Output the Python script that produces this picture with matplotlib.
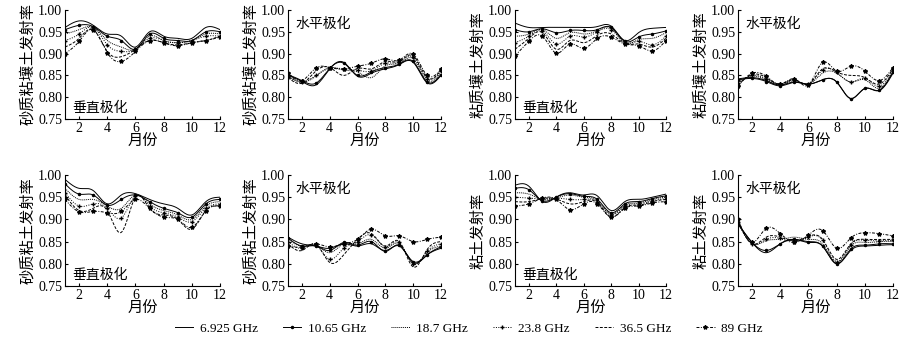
import numpy as np
import matplotlib
matplotlib.use("Agg")
import matplotlib.pyplot as plt

plt.rcParams['font.family'] = ['Liberation Serif', 'Noto Sans CJK SC']

months = list(range(1, 13))
freqs = ["6.925 GHz", "10.65 GHz", "18.7 GHz", "23.8 GHz", "36.5 GHz", "89 GHz"]

# 砂质粘壤土 垂直极化
p1 = [
    [0.960, 0.975, 0.965, 0.945, 0.940, 0.915, 0.950, 0.940, 0.935, 0.935, 0.960, 0.955],
    [0.955, 0.965, 0.962, 0.940, 0.930, 0.910, 0.945, 0.935, 0.930, 0.930, 0.950, 0.950],
    [0.945, 0.955, 0.960, 0.930, 0.915, 0.910, 0.940, 0.930, 0.925, 0.930, 0.945, 0.945],
    [0.930, 0.945, 0.960, 0.920, 0.905, 0.910, 0.935, 0.930, 0.925, 0.930, 0.940, 0.940],
    [0.915, 0.935, 0.955, 0.905, 0.893, 0.910, 0.930, 0.925, 0.920, 0.925, 0.930, 0.940],
    [0.900, 0.928, 0.955, 0.902, 0.882, 0.905, 0.930, 0.925, 0.918, 0.925, 0.930, 0.938],
]
# 砂质粘壤土 水平极化
p2 = [
    [0.850, 0.836, 0.828, 0.865, 0.880, 0.848, 0.855, 0.865, 0.875, 0.880, 0.833, 0.850],
    [0.852, 0.838, 0.832, 0.866, 0.878, 0.850, 0.858, 0.868, 0.876, 0.882, 0.835, 0.852],
    [0.848, 0.835, 0.848, 0.868, 0.862, 0.858, 0.845, 0.872, 0.878, 0.888, 0.838, 0.856],
    [0.846, 0.834, 0.850, 0.866, 0.865, 0.862, 0.860, 0.878, 0.880, 0.892, 0.842, 0.860],
    [0.845, 0.832, 0.860, 0.868, 0.850, 0.866, 0.865, 0.882, 0.882, 0.895, 0.845, 0.862],
    [0.855, 0.838, 0.867, 0.868, 0.865, 0.871, 0.878, 0.888, 0.885, 0.899, 0.850, 0.864],
]
# 粘质壤土 垂直极化
p3 = [
    [0.970, 0.960, 0.960, 0.960, 0.960, 0.960, 0.962, 0.963, 0.930, 0.948, 0.958, 0.960],
    [0.955, 0.950, 0.957, 0.948, 0.953, 0.953, 0.955, 0.960, 0.928, 0.938, 0.945, 0.952],
    [0.940, 0.945, 0.955, 0.935, 0.948, 0.945, 0.953, 0.958, 0.925, 0.932, 0.935, 0.948],
    [0.925, 0.940, 0.952, 0.922, 0.940, 0.938, 0.950, 0.955, 0.925, 0.928, 0.920, 0.940],
    [0.910, 0.935, 0.948, 0.910, 0.930, 0.925, 0.942, 0.945, 0.923, 0.922, 0.915, 0.935],
    [0.895, 0.928, 0.940, 0.901, 0.922, 0.912, 0.935, 0.938, 0.922, 0.918, 0.906, 0.930],
]
# 粘质壤土 水平极化
p4 = [
    [0.842, 0.845, 0.838, 0.828, 0.835, 0.830, 0.840, 0.835, 0.797, 0.820, 0.815, 0.855],
    [0.840, 0.843, 0.836, 0.826, 0.834, 0.830, 0.840, 0.835, 0.797, 0.820, 0.816, 0.858],
    [0.835, 0.848, 0.840, 0.828, 0.838, 0.830, 0.855, 0.855, 0.835, 0.840, 0.820, 0.860],
    [0.832, 0.850, 0.842, 0.830, 0.840, 0.830, 0.862, 0.857, 0.835, 0.843, 0.825, 0.862],
    [0.828, 0.852, 0.845, 0.830, 0.840, 0.830, 0.865, 0.858, 0.850, 0.845, 0.830, 0.865],
    [0.825, 0.855, 0.848, 0.830, 0.842, 0.828, 0.880, 0.860, 0.871, 0.860, 0.838, 0.868],
]
# 砂质粘土 垂直极化
p5 = [
    [0.990, 0.970, 0.965, 0.935, 0.955, 0.958, 0.945, 0.935, 0.925, 0.910, 0.940, 0.950],
    [0.980, 0.957, 0.955, 0.932, 0.945, 0.955, 0.940, 0.925, 0.915, 0.905, 0.935, 0.945],
    [0.970, 0.945, 0.945, 0.930, 0.925, 0.955, 0.935, 0.920, 0.910, 0.900, 0.930, 0.940],
    [0.960, 0.930, 0.935, 0.925, 0.903, 0.953, 0.930, 0.915, 0.905, 0.895, 0.925, 0.935],
    [0.955, 0.920, 0.925, 0.920, 0.871, 0.950, 0.925, 0.910, 0.900, 0.878, 0.920, 0.930],
    [0.945, 0.917, 0.918, 0.915, 0.918, 0.945, 0.925, 0.905, 0.900, 0.882, 0.920, 0.930],
]
# 砂质粘土 水平极化
p6 = [
    [0.860, 0.845, 0.840, 0.835, 0.845, 0.840, 0.845, 0.830, 0.840, 0.805, 0.820, 0.835],
    [0.858, 0.840, 0.840, 0.830, 0.848, 0.842, 0.850, 0.828, 0.842, 0.803, 0.820, 0.838],
    [0.855, 0.840, 0.842, 0.825, 0.845, 0.845, 0.855, 0.835, 0.845, 0.800, 0.825, 0.840],
    [0.850, 0.835, 0.843, 0.810, 0.835, 0.850, 0.865, 0.838, 0.848, 0.800, 0.828, 0.845],
    [0.845, 0.830, 0.844, 0.803, 0.820, 0.855, 0.868, 0.840, 0.850, 0.793, 0.832, 0.850],
    [0.840, 0.838, 0.845, 0.838, 0.845, 0.855, 0.878, 0.863, 0.863, 0.850, 0.855, 0.860],
]
# 粘土 垂直极化
p7 = [
    [0.977, 0.975, 0.940, 0.950, 0.960, 0.955, 0.953, 0.920, 0.940, 0.945, 0.950, 0.957],
    [0.970, 0.967, 0.942, 0.950, 0.958, 0.952, 0.945, 0.915, 0.935, 0.940, 0.947, 0.953],
    [0.960, 0.957, 0.945, 0.948, 0.955, 0.950, 0.942, 0.912, 0.932, 0.937, 0.945, 0.950],
    [0.950, 0.948, 0.946, 0.948, 0.945, 0.945, 0.940, 0.910, 0.930, 0.935, 0.942, 0.947],
    [0.940, 0.940, 0.947, 0.946, 0.935, 0.940, 0.938, 0.905, 0.927, 0.932, 0.940, 0.945],
    [0.930, 0.935, 0.948, 0.945, 0.922, 0.935, 0.935, 0.905, 0.925, 0.930, 0.937, 0.940],
]
# 粘土 水平极化
p8 = [
    [0.890, 0.848, 0.825, 0.845, 0.855, 0.850, 0.840, 0.800, 0.830, 0.840, 0.842, 0.843],
    [0.890, 0.848, 0.830, 0.845, 0.855, 0.848, 0.840, 0.800, 0.833, 0.842, 0.845, 0.845],
    [0.892, 0.845, 0.852, 0.855, 0.860, 0.855, 0.845, 0.803, 0.840, 0.848, 0.850, 0.850],
    [0.895, 0.845, 0.855, 0.857, 0.848, 0.860, 0.853, 0.805, 0.843, 0.853, 0.852, 0.853],
    [0.898, 0.845, 0.860, 0.860, 0.852, 0.862, 0.855, 0.810, 0.845, 0.855, 0.855, 0.855],
    [0.900, 0.848, 0.880, 0.868, 0.850, 0.865, 0.875, 0.835, 0.858, 0.870, 0.868, 0.863],
]

panels = [p1, p2, p3, p4, p5, p6, p7, p8]
ylabels = ["砂质粘壤土发射率", "砂质粘壤土发射率", "粘质壤土发射率", "粘质壤土发射率",
           "砂质粘土发射率", "砂质粘土发射率", "粘土发射率", "粘土发射率"]
pol_labels = ["垂直极化", "水平极化"] * 4

styles = [
    dict(ls='-', marker=None),
    dict(ls='-', marker='.', ms=3),
    dict(ls=(0, (1, 1)), marker=None),
    dict(ls=(0, (1, 1.5)), marker='+', ms=3),
    dict(ls=(0, (3, 1.5)), marker=None),
    dict(ls=(0, (3, 1.5, 1, 1.5)), marker='*', ms=3),
]


def spline(x, y, n=20):
    # natural cubic spline, just for the smooth look of the curves
    x = np.asarray(x, float)
    y = np.asarray(y, float)
    k = len(x)
    h = np.diff(x)
    A = np.zeros((k, k))
    b = np.zeros(k)
    A[0, 0] = A[-1, -1] = 1
    for i in range(1, k - 1):
        A[i, i - 1] = h[i - 1]
        A[i, i] = 2 * (h[i - 1] + h[i])
        A[i, i + 1] = h[i]
        b[i] = 3 * ((y[i + 1] - y[i]) / h[i] - (y[i] - y[i - 1]) / h[i - 1])
    c = np.linalg.solve(A, b)
    xs, ys = [], []
    for i in range(k - 1):
        t = np.linspace(0, h[i], n, endpoint=False)
        bb = (y[i + 1] - y[i]) / h[i] - h[i] * (2 * c[i] + c[i + 1]) / 3
        d = (c[i + 1] - c[i]) / (3 * h[i])
        xs.append(x[i] + t)
        ys.append(y[i] + bb * t + c[i] * t ** 2 + d * t ** 3)
    xs.append([x[-1]])
    ys.append([y[-1]])
    return np.concatenate(xs), np.concatenate(ys)


fig = plt.figure(figsize=(9.1, 3.45), dpi=100)
W, H = 910, 345
lefts = [65, 288, 515, 738]
widths = [155, 153, 151, 155]
rows = [(10, 119), (175, 286)]

for idx, data in enumerate(panels):
    r, col = divmod(idx, 4)
    top, bot = rows[r]
    ax = fig.add_axes([lefts[col] / W, 1 - bot / H, widths[col] / W, (bot - top) / H])
    for series, st, lab in zip(data, styles, freqs):
        xs, ys = spline(months, series)
        ax.plot(xs, ys, color='black', lw=0.7, ls=st['ls'], marker=st['marker'],
                ms=st.get('ms', 3), markevery=20, label=lab)
    ax.set_xlim(1, 12)
    ax.set_ylim(0.75, 1.0)
    ax.set_xticks([2, 4, 6, 8, 10, 12])
    ax.set_yticks([0.75, 0.80, 0.85, 0.90, 0.95, 1.00])
    ax.set_yticklabels(["%.2f" % v for v in [0.75, 0.80, 0.85, 0.90, 0.95, 1.00]])
    ax.spines['top'].set_visible(False)
    ax.spines['right'].set_visible(False)
    ax.tick_params(direction='in', length=2, labelsize=10, pad=2)
    ax.set_xlabel("月份", fontsize=11, labelpad=0)
    ax.set_ylabel(ylabels[idx], fontsize=11, labelpad=2)
    if idx % 2 == 0:
        ax.text(0.05, 0.10, pol_labels[idx], transform=ax.transAxes, fontsize=10, va='center')
    else:
        ax.text(0.05, 0.87, pol_labels[idx], transform=ax.transAxes, fontsize=10, va='center')

handles, labels = ax.get_legend_handles_labels()
fig.legend(handles, labels, loc='center', bbox_to_anchor=(0.515, 0.048), ncol=6,
           frameon=False, fontsize=9.5, handlelength=1.4, columnspacing=1.9, handletextpad=0.5)

fig.savefig("out.png", dpi=100)
